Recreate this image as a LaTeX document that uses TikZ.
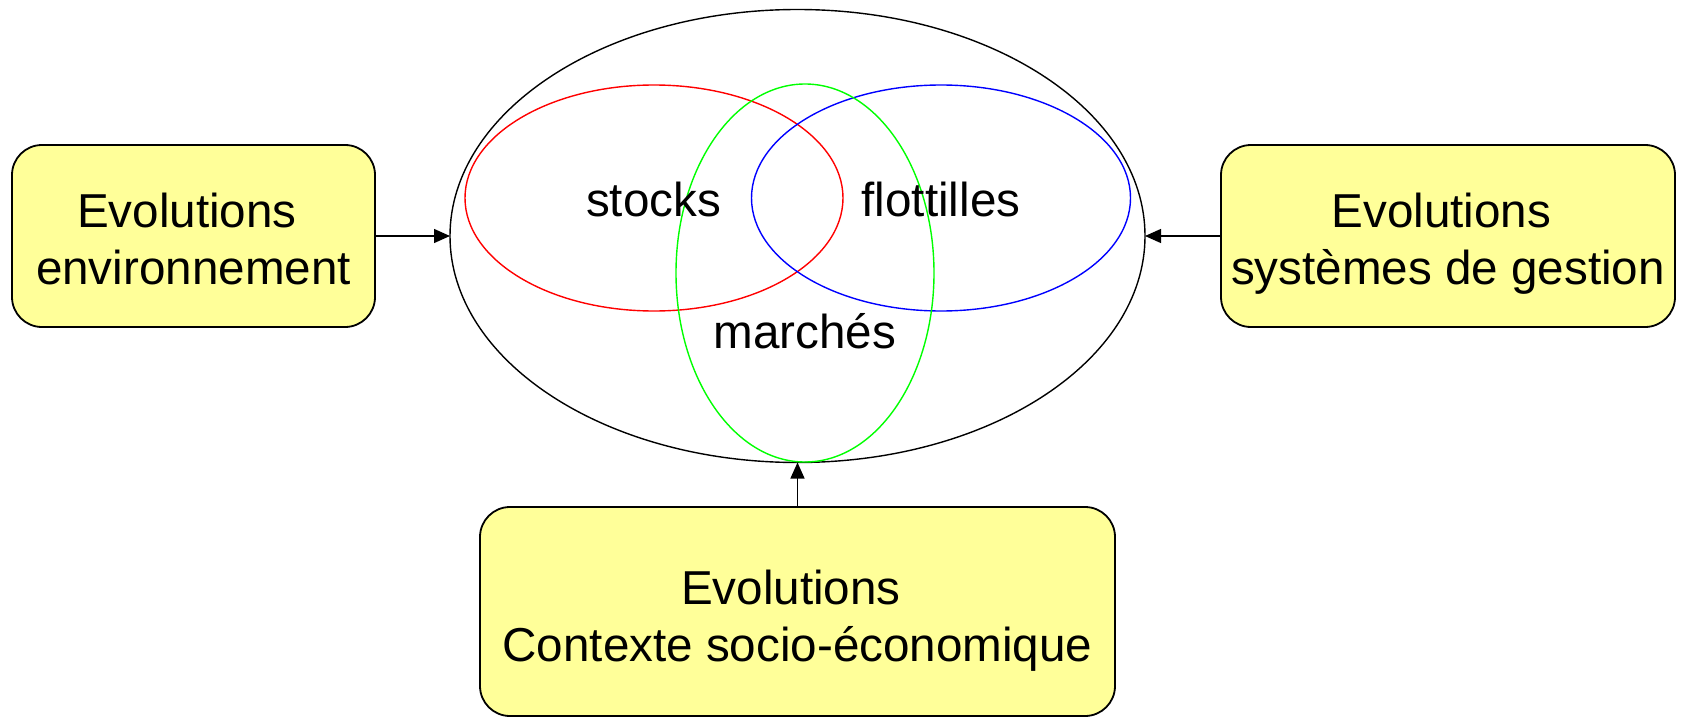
\documentclass[tikz,border=0pt]{standalone}
\usepackage{fontspec}
\setmainfont{Liberation Sans}
\usetikzlibrary{shapes.geometric,arrows.meta}
\definecolor{boxyellow}{HTML}{FFFF99}
\definecolor{vgreen}{HTML}{00FF00}
\begin{document}
\begin{tikzpicture}[x=0.5pt,y=-0.5pt,
  txt/.style={font=\fontsize{23.8pt}{28.5pt}\selectfont},
  evobox/.style={draw=black, line width=0.9pt, fill=boxyellow, rounded corners=15pt,
    inner sep=0pt, outer sep=0pt, align=center, txt, text height=48pt, text depth=0pt,
    minimum height=91pt},
  oval/.style={ellipse, draw, line width=0.7pt, inner sep=0pt, outer sep=0pt},
  conn/.style={line width=0.65pt, -{Triangle[length=8pt,width=7pt]}},
  lbl/.style={txt, anchor=base, inner sep=0pt}]
\useasboundingbox (0,0) rectangle (1681,717);

\node[oval, minimum width=347.5pt, minimum height=226.5pt] (sys) at (797.5,236) {};
\node[oval, draw=red, minimum width=189pt, minimum height=113pt] (stocks) at (654,198) {};
\node[oval, draw=blue, minimum width=189.5pt, minimum height=113pt] (flot) at (941,198) {};
\node[oval, draw=vgreen, minimum width=129pt, minimum height=189pt] (march) at (805,273) {};

\node[lbl] (tstocks) at (653.5,216) {stocks};
\node[lbl] (tflot) at (941,216) {flottilles};
\node[lbl] (tmarch) at (805,348) {marchés};

\node[evobox, minimum width=181.5pt] (env) at (193.5,236) {Evolutions\kern0.28em\\environnement};
\node[evobox, minimum width=227pt] (gest) at (1448,236) {Evolutions\kern0.28em\\systèmes de gestion};
\node[evobox, minimum width=317.5pt, minimum height=104.5pt, text height=49.5pt] (ctx) at (797.5,611.5) {Evolutions\kern0.28em\\Contexte socio-économique};

\draw[conn] (env.east) -- (env.east -| sys.west);
\draw[conn] (gest.west) -- (gest.west -| sys.east);
\draw[conn] (ctx.north) -- (sys.south);
\end{tikzpicture}
\end{document}
